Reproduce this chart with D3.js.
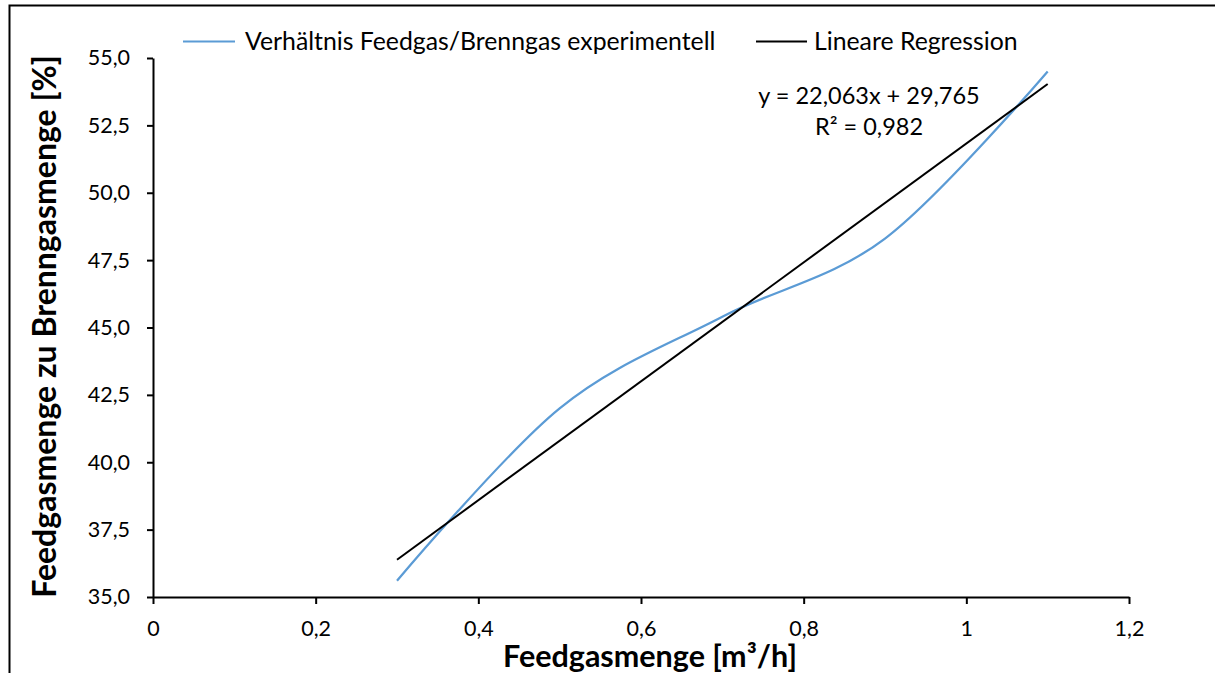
<!DOCTYPE html>
<html>
<head>
<meta charset="utf-8">
<script src="https://cdn.jsdelivr.net/npm/d3@7"></script>
<style>
    body { margin: 0; background: #fff; }
    text { font-family: Lato, "Open Sans", sans-serif; fill: #000; }
</style>
</head>
<body>
<script>
//
// Feedgas / Brenngas ratio vs feedgas flow, with a linear regression line.
//

var feedgasRates = [0.3, 0.5, 0.7, 0.9, 1.1]; // Feedgasmenge [m³/h]
var gasRatios = [35.6, 42.0, 45.4, 48.3, 54.5]; // Feedgasmenge zu Brenngasmenge [%]
var xTickValues = [0, 0.2, 0.4, 0.6, 0.8, 1, 1.2];
var yTickValues = [35, 37.5, 40, 42.5, 45, 47.5, 50, 52.5, 55];
var regressionSlope = 22.063; // From the trend line label.
var regressionIntercept = 29.765;
var regressionLabels = ["y = 22,063x + 29,765", "R² = 0,982"];
var seriesNames = ["Verhältnis Feedgas/Brenngas experimentell", "Lineare Regression"];

window.onload = function () {

    var width = 1215;
    var height = 673;

    var svg = d3.select("body").append("svg")
        .attr("width", width)
        .attr("height", height);

    svg.append("rect") // Chart frame, only top and left edges are visible in the crop.
        .attr("x", 9.5)
        .attr("y", 5.5)
        .attr("width", 1400)
        .attr("height", 1000)
        .attr("fill", "none")
        .attr("stroke", "#000")
        .attr("stroke-width", 2);

    var x = d3.scaleLinear()
        .domain([0, 1.2])
        .range([153, 1129]);

    var y = d3.scaleLinear()
        .domain([35, 55])
        .range([597, 58]);

    function commaFormat (d) { return String(d).replace(".", ","); }

    var xAxis = d3.axisBottom(x)
        .tickValues(xTickValues)
        .tickSize(7)
        .tickSizeOuter(0)
        .tickPadding(17)
        .tickFormat(commaFormat);

    var yAxis = d3.axisLeft(y)
        .tickValues(yTickValues)
        .tickSize(6)
        .tickSizeOuter(0)
        .tickPadding(17)
        .tickFormat(function (d) { return d.toFixed(1).replace(".", ","); });

    var gx = svg.append("g")
        .attr("transform", "translate(0," + y(35) + ")")
        .call(xAxis);

    var gy = svg.append("g")
        .attr("transform", "translate(" + x(0) + ",0)")
        .call(yAxis);

    [gx, gy].forEach(function (g) { // Excel-like axis styling.
        g.select(".domain").attr("stroke", "#000").attr("stroke-width", 2);
        g.selectAll(".tick line").attr("stroke", "#000").attr("stroke-width", 2);
        g.selectAll(".tick text")
            .attr("fill", "#000")
            .style("font-family", "Lato, sans-serif")
            .style("font-size", "21.5px");
    });

    var seriesData = feedgasRates.map(function (rate, i) { return [rate, gasRatios[i]]; });

    var smoothLine = d3.line()
        .x(function (d) { return x(d[0]); })
        .y(function (d) { return y(d[1]); })
        .curve(d3.curveCardinal.tension(0)); // Close to Excel's smoothed line.

    svg.append("path")
        .datum(seriesData)
        .attr("d", smoothLine)
        .attr("fill", "none")
        .attr("stroke", "#5B9BD5")
        .attr("stroke-width", 2.25);

    var regressionData = d3.extent(feedgasRates).map(function (rate) {
        return [rate, regressionSlope * rate + regressionIntercept];
    });

    svg.append("path")
        .datum(regressionData)
        .attr("d", d3.line().x(function (d) { return x(d[0]); }).y(function (d) { return y(d[1]); }))
        .attr("fill", "none")
        .attr("stroke", "#000")
        .attr("stroke-width", 2);

    svg.selectAll(".eq") // Trend line label.
        .data(regressionLabels)
        .enter()
        .append("text")
        .attr("class", "eq")
        .attr("x", 869)
        .attr("y", function (d, i) { return 96 + i * 31; })
        .attr("dy", "0.35em")
        .attr("text-anchor", "middle")
        .style("font-size", "23.5px")
        .text(function (d) { return d; });

    var legendItems = [
        { name: seriesNames[0], color: "#5B9BD5", x1: 183, x2: 235, tx: 245 },
        { name: seriesNames[1], color: "#000", x1: 756, x2: 807, tx: 814 }
    ];

    var legend = svg.selectAll(".legend")
        .data(legendItems)
        .enter()
        .append("g")
        .attr("class", "legend");

    legend.append("line")
        .attr("x1", function (d) { return d.x1; })
        .attr("x2", function (d) { return d.x2; })
        .attr("y1", 41.5)
        .attr("y2", 41.5)
        .attr("stroke", function (d) { return d.color; })
        .attr("stroke-width", 2);

    legend.append("text")
        .attr("x", function (d) { return d.tx; })
        .attr("y", 41.5)
        .attr("dy", "0.35em")
        .style("font-size", "24.8px")
        .text(function (d) { return d.name; });

    svg.append("text") // X axis title.
        .attr("x", 650)
        .attr("y", 667)
        .attr("text-anchor", "middle")
        .style("font-size", "30.5px")
        .style("font-weight", "bold")
        .text("Feedgasmenge [m³/h]");

    svg.append("text") // Y axis title.
        .attr("transform", "translate(56," + (y(45) - 1) + ") rotate(-90)")
        .attr("text-anchor", "middle")
        .style("font-size", "32px")
        .style("font-weight", "bold")
        .text("Feedgasmenge zu Brenngasmenge [%]");
};
</script>
</body>
</html>
